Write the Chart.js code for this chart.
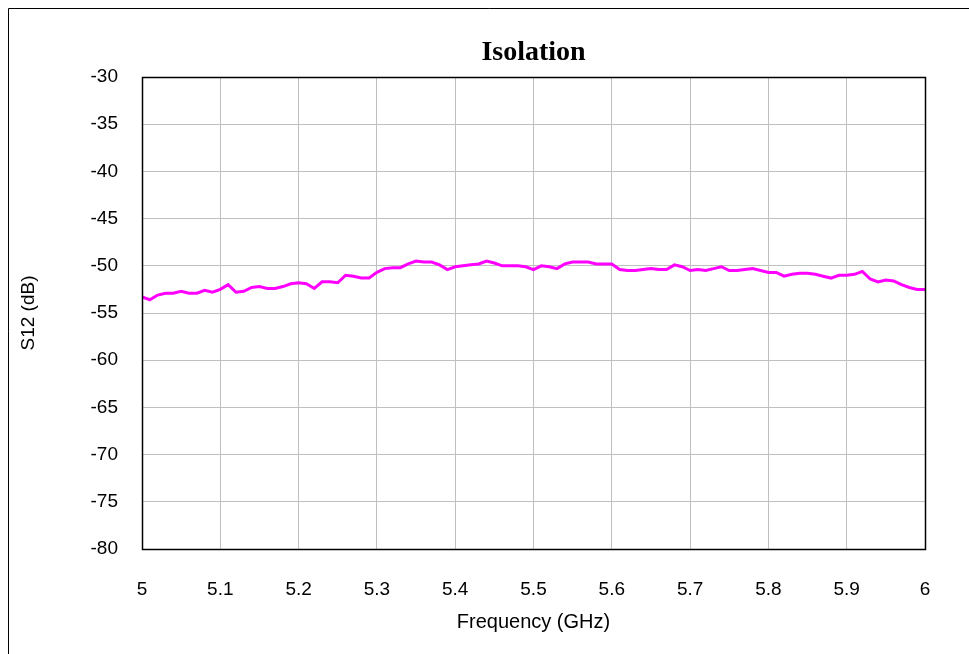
<!DOCTYPE html>
<html>
<head>
<meta charset="utf-8">
<script src="https://cdn.jsdelivr.net/npm/chart.js@4"></script>
<style>
html,body{margin:0;padding:0;background:#fff;}
#wrap{width:969px;height:654px;position:relative;}
</style>
</head>
<body>
<div id="wrap"><canvas id="c" width="969" height="654"></canvas></div>
<script>
const frequencies = [5.00,5.01,5.02,5.03,5.04,5.05,5.06,5.07,5.08,5.09,5.10,5.11,5.12,5.13,5.14,5.15,5.16,5.17,5.18,5.19,5.20,5.21,5.22,5.23,5.24,5.25,5.26,5.27,5.28,5.29,5.30,5.31,5.32,5.33,5.34,5.35,5.36,5.37,5.38,5.39,5.40,5.41,5.42,5.43,5.44,5.45,5.46,5.47,5.48,5.49,5.50,5.51,5.52,5.53,5.54,5.55,5.56,5.57,5.58,5.59,5.60,5.61,5.62,5.63,5.64,5.65,5.66,5.67,5.68,5.69,5.70,5.71,5.72,5.73,5.74,5.75,5.76,5.77,5.78,5.79,5.80,5.81,5.82,5.83,5.84,5.85,5.86,5.87,5.88,5.89,5.90,5.91,5.92,5.93,5.94,5.95,5.96,5.97,5.98,5.99,6.00];
const s12 = [-53.3,-53.6,-53.1,-52.9,-52.9,-52.7,-52.9,-52.9,-52.6,-52.8,-52.5,-52.0,-52.8,-52.7,-52.3,-52.2,-52.4,-52.4,-52.2,-51.9,-51.8,-51.9,-52.4,-51.7,-51.7,-51.8,-51.0,-51.1,-51.3,-51.3,-50.7,-50.3,-50.2,-50.2,-49.8,-49.5,-49.6,-49.6,-49.9,-50.4,-50.1,-50.0,-49.9,-49.8,-49.5,-49.7,-50.0,-50.0,-50.0,-50.1,-50.4,-50.0,-50.1,-50.3,-49.8,-49.6,-49.6,-49.6,-49.8,-49.8,-49.8,-50.4,-50.5,-50.5,-50.4,-50.3,-50.4,-50.4,-49.9,-50.1,-50.5,-50.4,-50.5,-50.3,-50.1,-50.5,-50.5,-50.4,-50.3,-50.5,-50.7,-50.7,-51.1,-50.9,-50.8,-50.8,-50.9,-51.1,-51.3,-51.0,-51.0,-50.9,-50.6,-51.4,-51.7,-51.5,-51.6,-52.0,-52.3,-52.5,-52.5];
const xTickLabels = ["5","5.1","5.2","5.3","5.4","5.5","5.6","5.7","5.8","5.9","6"];
const yTickLabels = ["-80","-75","-70","-65","-60","-55","-50","-45","-40","-35","-30"];

const framePlugin = {
  id: 'frame',
  afterLayout(chart) {
    const a = chart.chartArea;
    if (chart.titleBlock) {
      chart.titleBlock.left = a.left;
      chart.titleBlock.right = a.right;
      chart.titleBlock.width = a.right - a.left;
    }
  },
  beforeDraw(chart) {
    const ctx = chart.ctx;
    ctx.save();
    ctx.fillStyle = '#fff';
    ctx.fillRect(0, 0, chart.width, chart.height);
    ctx.strokeStyle = '#000';
    ctx.lineWidth = 1;
    ctx.beginPath();
    ctx.moveTo(8.5, chart.height + 5);
    ctx.lineTo(8.5, 8.5);
    ctx.lineTo(chart.width + 5, 8.5);
    ctx.stroke();
    ctx.restore();
  },
  afterDatasetsDraw(chart) {
    const a = chart.chartArea;
    const ctx = chart.ctx;
    ctx.save();
    ctx.strokeStyle = '#000';
    ctx.lineWidth = 1.5;
    ctx.strokeRect(Math.round(a.left) + 0.5, Math.round(a.top) + 0.5, Math.round(a.right - a.left), Math.round(a.bottom - a.top));
    ctx.restore();
  }
};

new Chart(document.getElementById('c'), {
  type: 'line',
  data: {
    datasets: [{
      data: frequencies.map((f, i) => ({x: f, y: s12[i]})),
      borderColor: '#FF00FF',
      borderWidth: 3,
      pointRadius: 0,
      tension: 0,
      fill: false
    }]
  },
  options: {
    responsive: false,
    animation: false,
    devicePixelRatio: 1,
    layout: {padding: {left: 0, top: 0, bottom: 0, right: 44}},
    plugins: {
      legend: {display: false},
      tooltip: {enabled: false},
      title: {
        display: true,
        text: 'Isolation',
        color: '#000',
        font: {family: '"Liberation Serif", "Times New Roman", serif', size: 28, weight: 'bold', lineHeight: 1.2},
        padding: {top: 36, bottom: 7.4}
      }
    },
    scales: {
      x: {
        type: 'linear',
        min: 5, max: 6,
        afterFit(s) { s.height = 105; },
        afterBuildTicks(s) { s.ticks = xTickLabels.map(t => ({value: parseFloat(t)})); },
        ticks: {
          color: '#000',
          font: {family: '"Liberation Sans", Arial, sans-serif', size: 19},
          padding: 29,
          maxRotation: 0,
          autoSkip: false,
          callback: (v, i) => xTickLabels[i]
        },
        grid: {color: '#c0c0c0', lineWidth: 1, drawTicks: false},
        border: {display: true, color: '#000', width: 1},
        title: {
          display: true,
          text: 'Frequency (GHz)',
          color: '#000',
          font: {family: '"Liberation Sans", Arial, sans-serif', size: 20},
          padding: {top: 0, bottom: 20}
        }
      },
      y: {
        min: -80, max: -30,
        afterFit(s) { s.width = 142; },
        afterBuildTicks(s) { s.ticks = yTickLabels.map(t => ({value: parseFloat(t)})); },
        ticks: {
          color: '#000',
          font: {family: '"Liberation Sans", Arial, sans-serif', size: 19},
          padding: 24,
          autoSkip: false,
          callback: (v, i) => yTickLabels[i]
        },
        grid: {color: '#c0c0c0', lineWidth: 1, drawTicks: false},
        border: {display: true, color: '#000', width: 1},
        title: {
          display: true,
          text: 'S12 (dB)',
          color: '#000',
          font: {family: '"Liberation Sans", Arial, sans-serif', size: 19},
          padding: {top: 17, bottom: 0}
        }
      }
    }
  },
  plugins: [framePlugin]
});
</script>
</body>
</html>
